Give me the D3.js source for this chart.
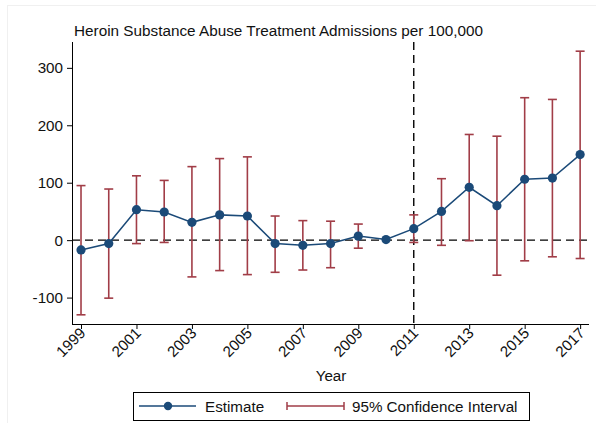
<!DOCTYPE html>
<html>
<head>
<meta charset="utf-8">
<script src="https://cdn.jsdelivr.net/npm/d3@7"></script>
<style>
  html, body { margin: 0; padding: 0; background: #fff; }
  svg { display: block; font-family: "Liberation Sans", Arial, sans-serif; }
</style>
</head>
<body>
<svg id="chart" width="596" height="423"></svg>
<script>
// Yearly estimates with 95% confidence bounds
const years    = [1999, 2000, 2001, 2002, 2003, 2004, 2005, 2006, 2007, 2008, 2009, 2010, 2011, 2012, 2013, 2014, 2015, 2016, 2017];
const estimate = [-17, -6, 53, 49, 31, 44, 42, -6, -9, -6, 7, 1, 20, 50, 92, 60, 106, 108, 149];
const ciUpper  = [95, 89, 112, 104, 128, 142, 145, 42, 34, 33, 28, null, 44, 107, 184, 181, 248, 245, 329];
const ciLower  = [-130, -101, -6, -4, -64, -53, -60, -56, -52, -48, -14, null, -4, -9, -1, -61, -36, -29, -32];
const xTicks   = [1999, 2001, 2003, 2005, 2007, 2009, 2011, 2013, 2015, 2017];
const yTicks   = [-100, 0, 100, 200, 300];
const eventYear = 2011;

const svg = d3.select("#chart");
const plot = { left: 72, right: 589, top: 42, bottom: 324 };
const fs = 15.2;
const fontFam = "'Liberation Sans', Arial, sans-serif";

// faint outer frame of the graph region
svg.append("rect").attr("x", 7.5).attr("y", 5.5).attr("width", 600).attr("height", 430)
  .attr("fill", "#fff").attr("stroke", "#f0f0f0");

const x = d3.scaleLinear().domain([1998.675, 2017.32]).range([plot.left, plot.right]);
const y = d3.scaleLinear().domain([-146, 345]).range([plot.bottom, plot.top]);

// title
svg.append("text").attr("x", 74).attr("y", 36).attr("font-size", 15.3).attr("fill", "#111")
  .text("Heroin Substance Abuse Treatment Admissions per 100,000");

// y axis
const yAxis = svg.append("g").attr("transform", `translate(${plot.left},0)`)
  .call(d3.axisLeft(y).tickValues(yTicks).tickSize(5).tickPadding(4).tickFormat(d => String(d)));
yAxis.select(".domain").attr("d", `M0.5,${plot.top}V${plot.bottom}`).attr("stroke", "#000");
yAxis.selectAll("text").attr("font-size", fs).attr("fill", "#111").attr("font-family", fontFam);

// x axis
const xAxis = svg.append("g").attr("transform", `translate(0,${plot.bottom})`)
  .call(d3.axisBottom(x).tickValues(xTicks).tickSize(5).tickPadding(3).tickFormat(d => String(d)));
xAxis.select(".domain").attr("d", `M${plot.left},0.5H${plot.right}`).attr("stroke", "#000");
xAxis.selectAll("text")
  .attr("font-size", fs).attr("fill", "#111").attr("font-family", fontFam)
  .attr("text-anchor", "end").attr("dy", null).attr("y", 0)
  .attr("transform", "translate(5,10) rotate(-45)");

svg.append("text").attr("x", 331).attr("y", 381).attr("text-anchor", "middle")
  .attr("font-size", fs).attr("fill", "#111").text("Year");

// reference lines
svg.append("line").attr("x1", plot.left).attr("x2", plot.right)
  .attr("y1", y(0)).attr("y2", y(0))
  .attr("stroke", "#000").attr("stroke-width", 1.4).attr("stroke-dasharray", "8,5");
svg.append("line").attr("x1", x(eventYear)).attr("x2", x(eventYear))
  .attr("y1", plot.top).attr("y2", plot.bottom)
  .attr("stroke", "#000").attr("stroke-width", 1.4).attr("stroke-dasharray", "8,5");

// confidence intervals
const ciColor = "#a13d47";
const capHalf = 4.5;
const ci = years.map((yr, i) => ({ yr, lo: ciLower[i], hi: ciUpper[i] })).filter(d => d.lo !== null);
const gCI = svg.append("g").attr("stroke", ciColor).attr("stroke-width", 1.6).attr("fill", "none");
ci.forEach(d => {
  const cx = x(d.yr);
  gCI.append("line").attr("x1", cx).attr("x2", cx).attr("y1", y(d.hi)).attr("y2", y(d.lo));
  gCI.append("line").attr("x1", cx - capHalf).attr("x2", cx + capHalf).attr("y1", y(d.hi)).attr("y2", y(d.hi));
  gCI.append("line").attr("x1", cx - capHalf).attr("x2", cx + capHalf).attr("y1", y(d.lo)).attr("y2", y(d.lo));
});

// estimate line and markers
const estColor = "#1b4a78";
const pts = years.map((yr, i) => ({ yr, v: estimate[i] }));
svg.append("path").datum(pts)
  .attr("d", d3.line().x(d => x(d.yr)).y(d => y(d.v)))
  .attr("fill", "none").attr("stroke", estColor).attr("stroke-width", 1.5);
svg.append("g").selectAll("circle").data(pts).join("circle")
  .attr("cx", d => x(d.yr)).attr("cy", d => y(d.v)).attr("r", 4.6).attr("fill", estColor);

// legend
const lg = svg.append("g");
lg.append("rect").attr("x", 133.5).attr("y", 392.5).attr("width", 396).attr("height", 28)
  .attr("fill", "#fff").attr("stroke", "#000").attr("stroke-width", 1);
lg.append("line").attr("x1", 139).attr("x2", 196).attr("y1", 406).attr("y2", 406)
  .attr("stroke", estColor).attr("stroke-width", 1.5);
lg.append("circle").attr("cx", 168).attr("cy", 406).attr("r", 4.2).attr("fill", estColor);
lg.append("text").attr("x", 205).attr("y", 411.5).attr("font-size", fs).attr("fill", "#111").text("Estimate");
lg.append("line").attr("x1", 287).attr("x2", 344).attr("y1", 406).attr("y2", 406)
  .attr("stroke", ciColor).attr("stroke-width", 1.5);
lg.append("line").attr("x1", 287).attr("x2", 287).attr("y1", 402).attr("y2", 410)
  .attr("stroke", ciColor).attr("stroke-width", 1.5);
lg.append("line").attr("x1", 344).attr("x2", 344).attr("y1", 402).attr("y2", 410)
  .attr("stroke", ciColor).attr("stroke-width", 1.5);
lg.append("text").attr("x", 352).attr("y", 411.5).attr("font-size", fs).attr("fill", "#111").text("95% Confidence Interval");
</script>
</body>
</html>
